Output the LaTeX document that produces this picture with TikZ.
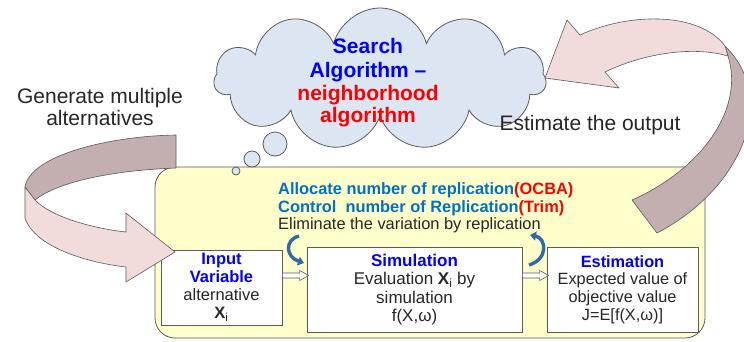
\documentclass[tikz,border=0pt]{standalone}
\usepackage{fontspec}
\setmainfont{Liberation Sans}
\usetikzlibrary{shapes.symbols,arrows.meta,calc}

\definecolor{edge}{HTML}{5A5A5A}
\definecolor{ink}{HTML}{262626}
\definecolor{panelfill}{HTML}{FFFFCC}
\definecolor{cloudfill}{HTML}{DCE6F2}
\definecolor{ribbonfront}{HTML}{F2DCDB}
\definecolor{ribbonback}{HTML}{C3AFAF}
\definecolor{titleblue}{HTML}{0000FF}
\definecolor{stepblue}{HTML}{0070C0}
\definecolor{hotred}{HTML}{FF0000}
\definecolor{loopblue}{HTML}{2F6AA6}

\begin{document}
\begin{tikzpicture}[x=1pt,y=-1pt,
  box/.style={draw=edge, fill=white, line width=0.8pt, align=center,
    inner sep=0pt, text=ink, font=\fontsize{16.5}{18}\selectfont},
  ribbon/.style={draw=edge, line width=0.6pt, line join=round},
  bubble/.style={circle, draw=edge, fill=cloudfill, line width=0.8pt, inner sep=0pt},
  loopline/.style={draw=loopblue, line width=3.4pt, -{Triangle[length=6pt,width=9pt]}},
  hollow/.style={draw=edge, fill=white, line width=0.6pt},
  biglabel/.style={font=\fontsize{21}{22}\selectfont, inner sep=0pt, text=ink},
  cloudtxt/.style={font=\fontsize{21}{23}\selectfont\bfseries, inner sep=0pt},
  steptxt/.style={font=\fontsize{16.4}{17.5}\selectfont, inner sep=0pt, anchor=base west}]

\useasboundingbox (0,0) rectangle (744,341);
\clip (0,0) rectangle (744,341);

% yellow working panel
\node[draw=edge, fill=panelfill, rounded corners=20pt, line width=0.8pt,
      minimum width=550pt, minimum height=171pt] (panel) at (430,252.5) {};

% the three stages
\node[box, minimum width=121pt, minimum height=75pt] (inp) at (221.5,287.5)
  {\textcolor{titleblue}{\textbf{Input}}\\\textcolor{titleblue}{\textbf{Variable}}\\alternative\\\textbf{X}\textsubscript{i}};
\node[box, font=\fontsize{17}{18.3}\selectfont, minimum width=215pt, minimum height=85pt] (sim) at (414.5,289.5)
  {\textcolor{titleblue}{\textbf{Simulation}}\\Evaluation \textbf{X}\textsubscript{i} by\\simulation\\f(X,ω)};
\node[box, font=\fontsize{16.3}{17.6}\selectfont, minimum width=151pt, minimum height=85pt] (est) at (622.5,289.5)
  {\textcolor{titleblue}{\textbf{Estimation}}\\Expected value of\\objective value\\J=E[f(X,ω)]};

% hollow arrows between the stages
\coordinate (hy) at (0,275.5);
\coordinate (h1) at (inp.east |- hy);
\coordinate (h2) at (sim.west |- hy);
\coordinate (h3) at (sim.east |- hy);
\coordinate (h4) at (est.west |- hy);
\draw[hollow] ($(h1)+(0,-2.5)$) -- ($(h2)+(-7,-2.5)$) -- ($(h2)+(-7,-5)$) -- ($(h2)+(2,0)$)
  -- ($(h2)+(-7,5)$) -- ($(h2)+(-7,2.5)$) -- ($(h1)+(0,2.5)$) -- cycle;
\draw[hollow] ($(h3)+(0,-2.5)$) -- ($(h4)+(-7,-2.5)$) -- ($(h4)+(-7,-5)$) -- ($(h4)+(2,0)$)
  -- ($(h4)+(-7,5)$) -- ($(h4)+(-7,2.5)$) -- ($(h3)+(0,2.5)$) -- cycle;

% replication loops
\draw[loopline] (299,236) .. controls (284,240) and (286,257) .. (304,263);
\draw[loopline] (529,265) .. controls (549,259) and (546,238) .. (530,235);

% replication notes
\node[steptxt, text=stepblue] (n1) at (278,194)
  {\textbf{Allocate number of replication\textcolor{hotred}{(OCBA)}}};
\node[steptxt, text=stepblue] (n2) at (278,212)
  {\textbf{Control\ \ number of Replication\textcolor{hotred}{(Trim)}}};
\node[steptxt, text=ink] (n3) at (278,229) {Eliminate the variation by replication};

% search algorithm cloud
\node[cloud, cloud puffs=11, aspect=2.4, draw=edge, fill=cloudfill, line width=0.8pt,
      minimum width=332pt, minimum height=142pt] (cloud) at (380,79) {};
\node[cloudtxt, text=titleblue, anchor=base] (c1) at (368,53) {Search};
\node[cloudtxt, text=titleblue, anchor=base] (c2) at (368,77) {Algorithm –};
\node[cloudtxt, text=hotred, anchor=base] (c3) at (368,100) {neighborhood};
\node[cloudtxt, text=hotred, anchor=base] (c4) at (368,122) {algorithm};

% thought bubbles
\node[bubble, minimum size=24pt] (b1) at (275,144) {};
\node[bubble, minimum size=16pt] (b2) at (252,159) {};
\node[bubble, minimum size=8pt] (b3) at (236,171) {};

% feedback ribbon on the right: estimation back to the cloud
\draw[ribbon, fill=ribbonback] (725,46) .. controls (780,100) and (740,190) .. (657,233)
  -- (632,200) .. controls (700,170) and (745,110) .. (728,56) -- cycle;
\draw[ribbon, fill=ribbonfront] (545,78) -- (567,20) -- (580,35)
  .. controls (630,12) and (700,12) .. (725,46) -- (728,56)
  .. controls (690,45) and (640,55) .. (605,72) -- (619,88) -- cycle;

% generating ribbon on the left: cloud down to the input
\draw[ribbon, fill=ribbonback] (176,135) .. controls (110,136) and (30,155) .. (25,187)
  -- (35,200) .. controls (60,180) and (120,170) .. (176,168) -- cycle;
\draw[ribbon, fill=ribbonfront] (25,187) -- (25,218) .. controls (35,248) and (90,263) .. (126,267)
  -- (126,282) -- (175,252) -- (126,213) -- (126,232)
  .. controls (90,228) and (50,216) .. (35,200) -- cycle;

% captions
\node[biglabel, anchor=base] (g1) at (100,103) {Generate multiple};
\node[biglabel, anchor=base] (g2) at (100,125) {alternatives};
\node[biglabel, anchor=base] (eo) at (590,130) {Estimate the output};

\end{tikzpicture}
\end{document}
